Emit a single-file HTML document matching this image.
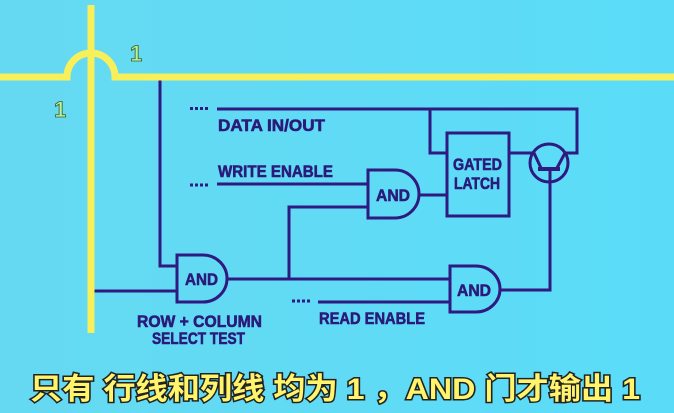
<!DOCTYPE html>
<html><head><meta charset="utf-8"><style>
html,body{margin:0;padding:0;width:674px;height:413px;overflow:hidden;background:#62daf4}
svg{display:block}
.l{font-family:"Liberation Sans",sans-serif;font-weight:bold;fill:#2a1a7a;stroke:#2a1a7a;stroke-width:0.6}
</style></head><body>
<svg width="674" height="413" viewBox="0 0 674 413">
<defs><linearGradient id="bg" x1="0" x2="1"><stop offset="0" stop-color="#66d9f2"/><stop offset="1" stop-color="#5adcf8"/></linearGradient></defs>
<rect width="674" height="413" fill="url(#bg)"/>
<g stroke="#2e1a80" stroke-width="3" fill="none">
<path d="M160 80V266H177"/>
<path d="M94 291H177"/>
<path d="M177 255H203A24 23.5 0 0 1 203 302H177Z"/>
<path d="M227 279H450"/>
<path d="M289 279V207H368"/>
<path d="M217 184H368"/>
<path d="M368 170H395A24 24 0 0 1 395 218H368Z"/>
<path d="M419 195H447"/>
<rect x="447" y="133" width="62" height="83"/>
<path d="M217 109H577V153H565"/>
<path d="M430 109V153H447"/>
<path d="M509 153H534L541 168"/>
<path d="M565 153L557 168"/>
<circle cx="549" cy="163" r="19"/>
<path d="M538 169H560" stroke-width="4"/>
<path d="M550 169V290H500"/>
<path d="M450 266H476A24 23 0 0 1 476 312H450Z"/>
<path d="M318 302H450"/>
</g>
<g stroke="#2e1a80" stroke-width="3" stroke-dasharray="3 2" fill="none">
<path d="M190 108.5H210"/>
<path d="M190 185H210"/>
<path d="M292 301H312"/>
</g>
<g class="l" font-size="17">
<text x="218" y="131" textLength="107" lengthAdjust="spacingAndGlyphs">DATA IN/OUT</text>
<text x="218" y="177" textLength="115" lengthAdjust="spacingAndGlyphs">WRITE ENABLE</text>
<text x="319" y="324" textLength="106" lengthAdjust="spacingAndGlyphs">READ ENABLE</text>
<text x="137" y="327" textLength="125" lengthAdjust="spacingAndGlyphs">ROW + COLUMN</text>
<text x="152" y="344" textLength="93" lengthAdjust="spacingAndGlyphs">SELECT TEST</text>
<text x="453" y="170" textLength="49" lengthAdjust="spacingAndGlyphs">GATED</text>
<text x="454" y="189" textLength="46" lengthAdjust="spacingAndGlyphs">LATCH</text>
<text x="376" y="201" textLength="34" lengthAdjust="spacingAndGlyphs">AND</text>
<text x="185" y="285" textLength="33" lengthAdjust="spacingAndGlyphs">AND</text>
<text x="457" y="296" textLength="34" lengthAdjust="spacingAndGlyphs">AND</text>
</g>
<g stroke="#f7f05a" stroke-width="7" fill="none">
<path d="M91 5V333"/>
<path d="M0 77H67A24 24 0 0 1 115 77H674"/>
</g>
<g font-family="Liberation Sans,sans-serif" font-weight="bold" font-size="22" fill="#b8f59a" stroke="#3a5a2a" stroke-width="0.8">
<text x="130" y="61">1</text>
<text x="54" y="117">1</text>
</g>
<text x="30" y="399" textLength="610" lengthAdjust="spacingAndGlyphs" font-family="Liberation Sans,'Noto Sans CJK SC',sans-serif" font-weight="bold" font-size="30" fill="#fff46a" stroke="#222" stroke-width="3" paint-order="stroke">只有 行线和列线 均为 1 ，AND 门才输出 1</text>
</svg>
</body></html>
